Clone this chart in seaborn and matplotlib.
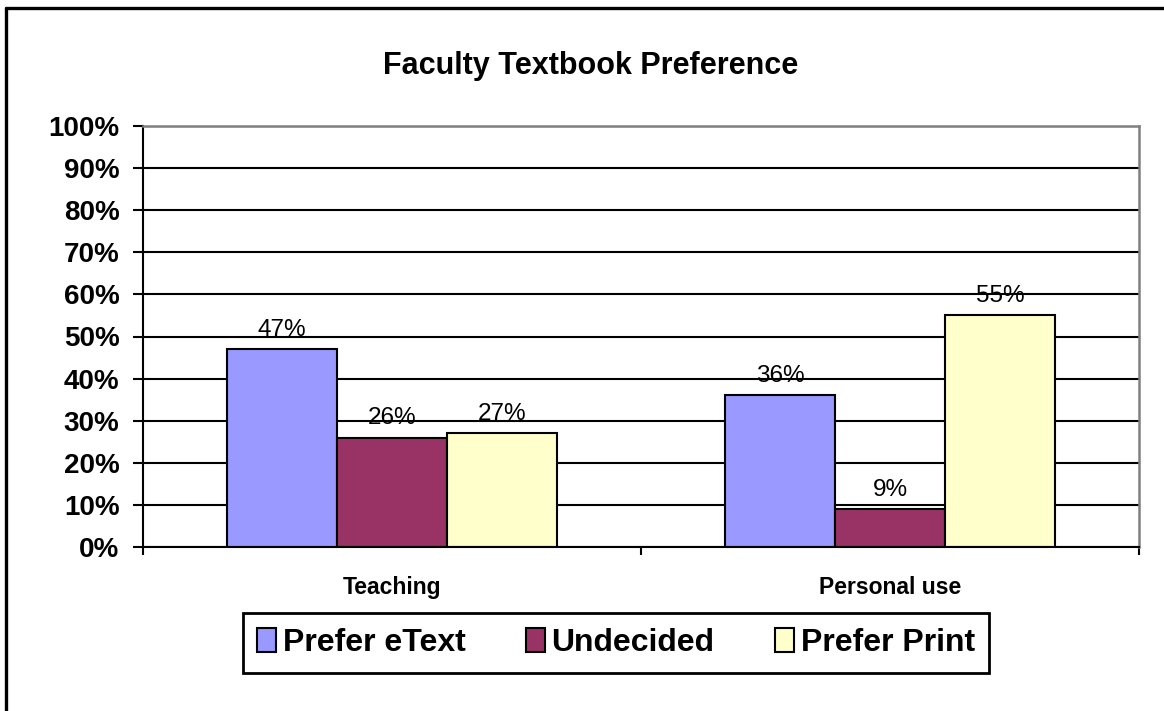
import matplotlib
matplotlib.use('Agg')
import matplotlib.pyplot as plt
from matplotlib.lines import Line2D
from matplotlib.patches import Patch
from matplotlib.ticker import FuncFormatter, MultipleLocator, FixedLocator
import pandas as pd
import seaborn as sns

# data
uses = ['Teaching', 'Personal use']
preferences = ['Prefer eText', 'Undecided', 'Prefer Print']
prefer_etext = [47, 36]
undecided = [26, 9]
prefer_print = [27, 55]
colors = ['#9999FF', '#993366', '#FFFFCC']

rows = []
for pref, vals in zip(preferences, [prefer_etext, undecided, prefer_print]):
    for use, v in zip(uses, vals):
        rows.append({'Use': use, 'Preference': pref, 'Share': v})
df = pd.DataFrame(rows)

sns.set_style('white', {'text.color': 'black', 'xtick.color': 'black', 'ytick.color': 'black'})
plt.rcParams['font.family'] = ['Liberation Sans', 'DejaVu Sans']

fig = plt.figure(figsize=(11.64, 7.11), dpi=100)
ax = fig.add_axes([143 / 1164, 1 - 547 / 711, (1139 - 143) / 1164, (547 - 126) / 711])

sns.barplot(data=df, x='Use', y='Share', hue='Preference', hue_order=preferences,
            palette=colors, width=0.663, edgecolor='black', linewidth=1.5,
            saturation=1, ax=ax, legend=False)

# gridlines
ax.set_ylim(0, 100)
ax.set_xlim(-0.5, 1.5)
ax.yaxis.set_major_locator(MultipleLocator(10))
ax.yaxis.set_major_formatter(FuncFormatter(lambda v, _: f'{int(v)}%'))
ax.set_axisbelow(True)
ax.grid(axis='y', color='black', linewidth=1.5)
ax.grid(axis='x', visible=False)

for side in ['top', 'right']:
    ax.spines[side].set_color('#808080')
    ax.spines[side].set_linewidth(1.8)
for side in ['left', 'bottom']:
    ax.spines[side].set_color('black')
    ax.spines[side].set_linewidth(1.5)
    ax.spines[side].set_visible(True)
ax.spines['top'].set_zorder(5)

ax.tick_params(axis='y', which='major', left=True, length=7, width=1.5, color='black',
               labelsize=20, pad=10, labelcolor='black')
for lab in ax.get_yticklabels():
    lab.set_fontweight('bold')

ax.set_xticks([0, 1])
ax.set_xticklabels(uses, fontsize=16.5, fontweight='bold', color='black')
ax.tick_params(axis='x', which='major', length=0, pad=21)
ax.xaxis.set_minor_locator(FixedLocator([-0.5, 0.5, 1.5]))
ax.tick_params(axis='x', which='minor', bottom=True, length=6, width=1.5, color='black')

ax.set_xlabel('')
ax.set_ylabel('')

for cont in ax.containers:
    ax.bar_label(cont, fmt='%d%%', fontsize=17.5, padding=6, color='black')

fig.text(591 / 1164, 1 - 66 / 711, 'Faculty Textbook Preference', ha='center', va='center',
         fontsize=22, fontweight='bold', color='black')

handles = [Patch(facecolor=c, edgecolor='black', linewidth=1.5) for c in colors]
leg = fig.legend(handles, preferences, loc='center', bbox_to_anchor=(616 / 1164, 1 - 643 / 711),
                 ncol=3, frameon=True, fancybox=False, framealpha=1,
                 prop={'weight': 'bold', 'size': 23},
                 handlelength=0.6, handleheight=0.8, handletextpad=0.2, columnspacing=1.9,
                 borderpad=0.45, borderaxespad=0)
leg.get_frame().set_edgecolor('black')
leg.get_frame().set_linewidth(2)

# outer chart border (left and top edges only visible)
fig.add_artist(Line2D([6 / 1164, 6 / 1164], [0, 1 - 7.5 / 711], color='black', linewidth=2.4,
                      transform=fig.transFigure))
fig.add_artist(Line2D([6 / 1164, 1], [1 - 7.5 / 711, 1 - 7.5 / 711], color='black', linewidth=2.4,
                      transform=fig.transFigure))

fig.savefig('out.png', dpi=100)
